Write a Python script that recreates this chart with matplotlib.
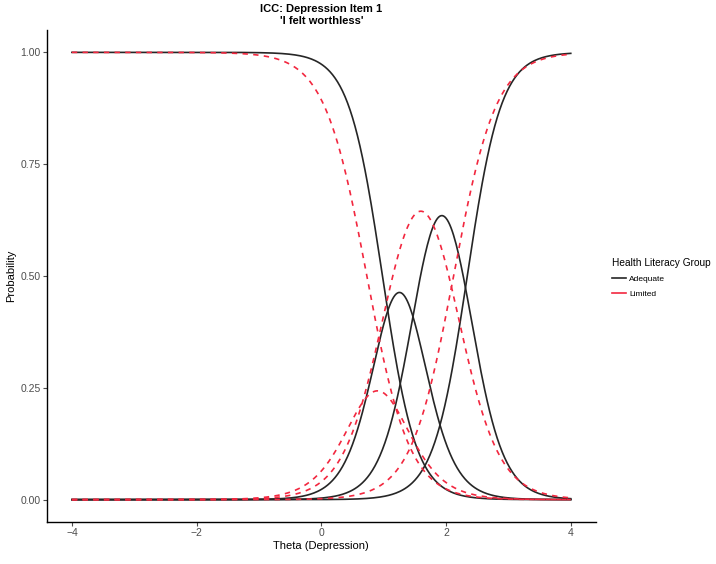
#!/usr/bin/env python3
import numpy as np
import matplotlib
matplotlib.use("Agg")
import matplotlib.pyplot as plt
from matplotlib.lines import Line2D

plt.rcParams['font.family'] = ['Liberation Sans', 'DejaVu Sans']

# graded response model parameters
groups = ["Adequate", "Limited"]
slope = {"Adequate": 3.68, "Limited": 2.92}
thresholds = {"Adequate": [0.98, 1.525, 2.34],
              "Limited": [0.73, 1.07, 2.12]}
colors = {"Adequate": "#262626", "Limited": "#f2273f"}
styles = {"Adequate": "-", "Limited": (0, (3.2, 3.2))}

theta = np.linspace(-4, 4, 401)


def category_probs(a, bs):
    # cumulative probabilities P(X >= k)
    cum = [np.ones_like(theta)]
    for b in bs:
        cum.append(1.0 / (1.0 + np.exp(-a * (theta - b))))
    cum.append(np.zeros_like(theta))
    return [cum[k] - cum[k + 1] for k in range(len(bs) + 1)]


fig = plt.figure(figsize=(7.16, 5.64), dpi=100)
ax = fig.add_axes([0.0656, 0.0745, 0.7664, 0.8723])

for g in groups:
    for p in category_probs(slope[g], thresholds[g]):
        ax.plot(theta, p, color=colors[g], linestyle=styles[g], lw=1.2)

ax.set_xlim(-4.4, 4.4)
ax.set_ylim(-0.05, 1.05)
ax.set_xticks([-4, -2, 0, 2, 4])
ax.set_xticklabels(["\u22124", "\u22122", "0", "2", "4"])
ax.set_yticks([0, 0.25, 0.5, 0.75, 1.0])
ax.set_yticklabels(["0.00", "0.25", "0.50", "0.75", "1.00"])
ax.tick_params(colors="#4d4d4d", labelsize=7.5, length=3, width=0.8, pad=1.5)
for s in ["top", "right"]:
    ax.spines[s].set_visible(False)
for s in ["left", "bottom"]:
    ax.spines[s].set_linewidth(1.0)
    ax.spines[s].set_color("black")

ax.set_xlabel("Theta (Depression)", fontsize=8, labelpad=2)
ax.set_ylabel("Probability", fontsize=8, labelpad=3)
ax.set_title("ICC: Depression Item 1\n'I felt worthless'", fontsize=8,
             fontweight="bold", pad=4, linespacing=1.25)

handles = [Line2D([0], [0], color="#262626", lw=1.2),
           Line2D([0], [0], color="#f2273f", lw=1.2)]
leg = fig.legend(handles, groups, title="Health Literacy Group",
                 loc="upper left", bbox_to_anchor=(0.844, 0.555),
                 frameon=False, fontsize=6, title_fontsize=7.3,
                 handlelength=1.7, handletextpad=0.4, labelspacing=0.85)
leg._legend_box.align = "left"

fig.savefig("out.png", dpi=100)
